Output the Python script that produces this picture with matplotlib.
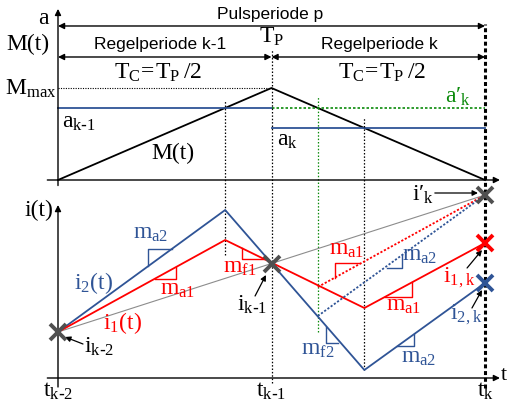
import numpy as np
import matplotlib.pyplot as plt

plt.rcParams['font.family'] = ['Liberation Serif', 'DejaVu Serif']
plt.rcParams['mathtext.default'] = 'regular'

BLUE = '#2f5496'
RED = '#ff0000'
GREEN = '#0b8a0b'
GREY = '#505050'

# time axis: t_{k-2} = 0, t_{k-1} = 1, t_k = 2 (one control period = 1)
t_ticks = [0.0, 1.0, 2.0]
t_tick_labels = ['$t_{k\\text{-}2}$', '$t_{k\\text{-}1}$', '$t_k$']

# modulation triangle M(t) and duty values
M_t = [0.0, 1.0, 2.0]
M_vals = [0.0, 1.0, 0.0]
M_max = 1.0
a_km1 = 0.78
a_k = 0.565
a_k_new = 0.78
t_on1 = 0.783    # M(t) crosses a_{k-1}
t_on_new = 1.217  # M(t) crosses a'_k
t_on2 = 1.435    # M(t) crosses a_k

# phase currents
i1_t = [0.0, t_on1, t_on2, 2.0]
i1_vals = [4.6, 13.8, 7.0, 13.5]
i2_t = [0.0, t_on1, t_on2, 2.0]
i2_vals = [4.6, 16.8, 0.8, 9.5]
i_km2 = 4.6
i_km1 = 11.4
i_k_new = 18.3
i1_k = 13.5
i2_k = 9.5
# predicted currents when switching at t_on_new
i1_dot_t = [t_on_new, 2.0]
i1_dot_vals = [9.1, 18.3]
i2_dot_t = [t_on_new, 2.0]
i2_dot_vals = [6.2, 18.3]

fig = plt.figure(figsize=(5.09, 4.05), dpi=100)
# both panels share the full canvas; only their vertical scaling differs
ax1 = fig.add_axes([0, 0, 1, 1])
ax2 = fig.add_axes([0, 0, 1, 1])
W, H = 509, 405
x0, xs = 58, 213.5
ax1.set_xlim(-x0 / xs, (W - x0) / xs)
ax2.set_xlim(-x0 / xs, (W - x0) / xs)
ax1.set_ylim(-(H - 180) / 92, 180 / 92)
ax2.set_ylim(-(H - 378) / 10, 378 / 10)
for ax in (ax1, ax2):
    ax.axis('off')
    ax.patch.set_alpha(0)


def fy(py):
    # figure fraction for a vertical span of a line
    return 1 - py / H


arrow_kw = dict(arrowstyle='-|>', color='black', lw=1.0, mutation_scale=9,
                shrinkA=0, shrinkB=0)
darrow_kw = dict(arrowstyle='<|-|>', color='black', lw=1.0, mutation_scale=9,
                 shrinkA=0, shrinkB=0)

# ---- upper panel: modulation ----
ax1.annotate('', xy=(-0.0, 1.86), xytext=(0, -0.06), arrowprops=arrow_kw)
ax1.annotate('', xy=(2.07, 0), xytext=(-0.05, 0), arrowprops=arrow_kw)
ax1.annotate('', xy=(2.0, 1.674), xytext=(0, 1.674), arrowprops=darrow_kw)
ax1.annotate('', xy=(1.0, 1.337), xytext=(0, 1.337), arrowprops=darrow_kw)
ax1.annotate('', xy=(2.0, 1.337), xytext=(1.0, 1.337), arrowprops=darrow_kw)

ax1.plot(M_t, M_vals, color='black', lw=1.3)
ax1.plot([0, 1], [M_max, M_max], color='black', lw=0.8, ls=(0, (1, 1.2)))
ax1.plot([0, 1], [a_km1, a_km1], color=BLUE, lw=1.3)
ax1.plot([1, 2], [a_k, a_k], color=BLUE, lw=1.3)
ax1.plot([1, 2], [a_k_new, a_k_new], color=GREEN, lw=1.2, ls=(0, (1.5, 1.2)))

txt = dict(fontsize=17, ha='center', va='center')
ax1.text(-0.07, 1.76, 'a', **txt)
ax1.text(-0.14, 1.47, 'M(t)', **txt)
ax1.text(-0.005, 0.99, '$M_{max}$', fontsize=17, ha='right', va='center')
ax1.text(0.02, 0.62, '$a_{k\\text{-}1}$', fontsize=17, ha='left', va='center')
ax1.text(0.54, 0.29, 'M(t)', **txt)
ax1.text(1.025, 0.43, '$a_k$', fontsize=17, ha='left', va='center')
ax1.text(1.874, 0.90, '$a\u2032_k$', color=GREEN, **txt)
ax1.text(1.0, 1.56, '$T_P$', **txt)
ax1.text(0.468, 1.17, '$T_C\\!=\\!T_P\\,/2$', **txt)
ax1.text(1.518, 1.17, '$T_C\\!=\\!T_P\\,/2$', **txt)
sans = dict(family='Liberation Sans', fontsize=12.5, ha='center', va='center')
ax1.text(0.993, 1.80, 'Pulsperiode p', **sans)
ax1.text(0.478, 1.47, 'Regelperiode k-1', **sans)
ax1.text(1.504, 1.47, 'Regelperiode k', **sans)

# switching instants
dot = dict(color='black', lw=0.9, ls=(0, (1.2, 1.5)))
ax1.axvline(t_on1, ymin=fy(255), ymax=fy(100), **dot)
ax1.axvline(t_on2, ymin=fy(370), ymax=fy(118), **dot)
ax1.axvline(t_ticks[1], ymin=fy(383), ymax=fy(50), **dot)
ax1.axvline(t_on_new, ymin=fy(332), ymax=fy(97), color=GREEN, lw=0.9,
            ls=(0, (1.2, 1.5)))
ax1.axvline(t_ticks[2], ymin=fy(388), ymax=fy(24), color='black', lw=2.2,
            ls=(0, (1.3, 0.9)))

# ---- lower panel: currents ----
ax2.annotate('', xy=(0, 17.3), xytext=(0, -0.9), arrowprops=arrow_kw)
ax2.annotate('', xy=(2.07, 0), xytext=(-0.05, 0), arrowprops=arrow_kw)

ax2.plot([0, 2], [i_km2, i_k_new], color='#8c8c8c', lw=0.8)
ax2.plot(i2_t, i2_vals, color=BLUE, lw=1.3)
ax2.plot(i1_t, i1_vals, color=RED, lw=1.3)
ax2.plot(i1_dot_t, i1_dot_vals, color=RED, lw=1.3, ls=(0, (1.2, 1.0)))
ax2.plot(i2_dot_t, i2_dot_vals, color=BLUE, lw=1.3, ls=(0, (1.2, 1.0)))

mk = dict(marker='x', markersize=11, mew=2.8, ls='none', zorder=5)
ax2.plot([0, 1, 2], [i_km2, i_km1, i_k_new], color=GREY, **mk)
ax2.plot([2], [i1_k], color=RED, **mk)
ax2.plot([2], [i2_k], color=BLUE, **mk)


def slope(ax, xa, xb, ya, yb, color, corner):
    # small slope triangle; corner picks which leg pair is drawn
    if corner == 'above':
        ax.plot([xa, xa, xb], [ya, yb, yb], color=color, lw=1.0)
    else:
        ax.plot([xa, xb, xb], [ya, ya, yb], color=color, lw=1.0)


slope(ax2, 0.422, 0.534, 11.2, 12.9, BLUE, 'above')
slope(ax2, 0.454, 0.553, 9.9, 11.1, RED, 'below')
slope(ax2, 0.862, 0.965, 13.0, 11.9, RED, 'above')
slope(ax2, 1.255, 1.311, 5.1, 3.5, BLUE, 'above')
slope(ax2, 1.297, 1.414, 10.0, 11.5, RED, 'above')
slope(ax2, 1.541, 1.611, 11.0, 12.3, BLUE, 'below')
slope(ax2, 1.532, 1.658, 8.1, 9.6, RED, 'below')
slope(ax2, 1.588, 1.667, 3.2, 4.4, BLUE, 'below')

ax2.text(-0.09, 16.8, 'i(t)', **txt)
ax2.text(0.164, 9.5, '$i_2(t)$', color=BLUE, **txt)
ax2.text(0.30, 5.5, '$i_1(t)$', color=RED, **txt)
ax2.text(0.436, 14.5, '$m_{a2}$', color=BLUE, **txt)
ax2.text(0.562, 8.8, '$m_{a1}$', color=RED, **txt)
ax2.text(0.852, 11.1, '$m_{f1}$', color=RED, **txt)
ax2.text(1.354, 12.8, '$m_{a1}$', color=RED, **txt)
ax2.text(1.696, 12.2, '$m_{a2}$', color=BLUE, **txt)
ax2.text(1.218, 2.8, '$m_{f2}$', color=BLUE, **txt)
ax2.text(1.621, 7.3, '$m_{a1}$', color=RED, **txt)
ax2.text(1.691, 2.0, '$m_{a2}$', color=BLUE, **txt)
ax2.text(1.878, 10.0, '$i_{1,k}$', color=RED, **txt)
ax2.text(1.911, 6.3, '$i_{2,k}$', color=BLUE, **txt)
ax2.text(0.122, 3.1, '$i_{k\\text{-}2}$', fontsize=17, ha='left', va='center')
ax2.text(0.909, 7.3, '$i_{k\\text{-}1}$', **txt)
ax2.text(1.71, 18.3, '$i\u2032_k$', **txt)

lab_kw = dict(arrowstyle='-|>', color='black', lw=0.9, mutation_scale=8,
              shrinkA=0, shrinkB=0)
ax2.annotate('', xy=(0.033, 4.1), xytext=(0.117, 3.4), arrowprops=lab_kw)
ax2.annotate('', xy=(0.974, 10.3), xytext=(0.923, 8.2), arrowprops=lab_kw)
ax2.annotate('', xy=(1.967, 18.5), xytext=(1.765, 18.5), arrowprops=lab_kw)
ax2.annotate('', xy=(1.986, 12.8), xytext=(1.916, 11.0), arrowprops=lab_kw)
ax2.annotate('', xy=(1.986, 8.8), xytext=(1.939, 7.0), arrowprops=lab_kw)

for t, lab in zip(t_ticks, t_tick_labels):
    ax2.text(t, -1.3, lab, **txt)
ax2.text(2.072, 0.3, 't', fontsize=16, ha='left', va='center')

fig.savefig('out.png', dpi=100)
